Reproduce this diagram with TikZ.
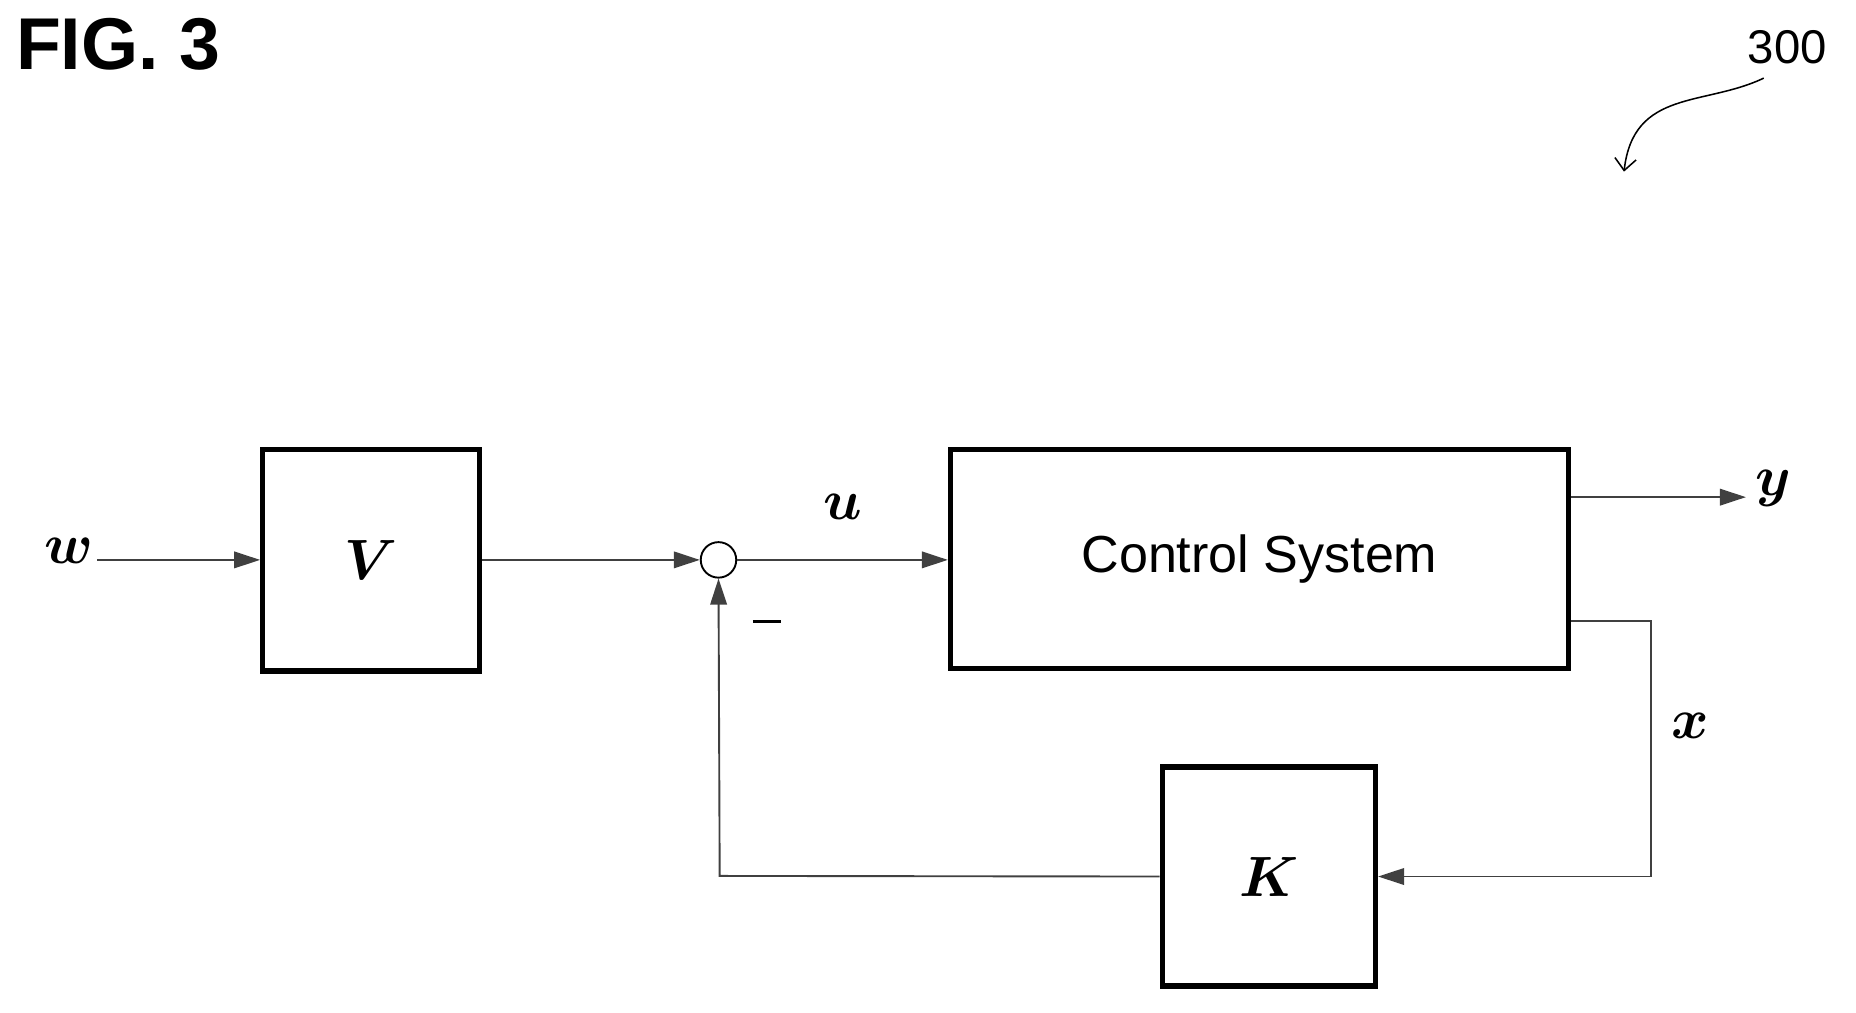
\documentclass[tikz,border=0pt]{standalone}
\usepackage{fix-cm}
\usepackage{fontspec}
\setsansfont{Liberation Sans}
\usetikzlibrary{arrows.meta}
\begin{document}
\begin{tikzpicture}[x=1pt,y=-1pt,
 blk/.style={draw,line width=4.5pt,minimum width=#1,inner sep=0},
 con/.style={draw=black!75,line width=1.6pt},
 arr/.style={con,-{Triangle[length=22pt,width=14pt]}},
 lab/.style={font=\fontsize{48}{50}\selectfont\boldmath}]
\useasboundingbox (0,0) rectangle (1568,855);
\node[anchor=north west,font=\sffamily\bfseries\fontsize{62}{64}\selectfont] (fig) at (10,12) {FIG. 3};
\node[font=\sffamily\fontsize{40}{42}\selectfont] (n300) at (1510,40) {300};
\coordinate (c1) at (1490,66);
\coordinate (c2) at (1372,145);
\draw[line width=1.3pt,-{Straight Barb[length=10pt,width=18pt]}] (c1) .. controls (1440,90) and (1380,75) .. (c2);
\node[blk,minimum width=183pt,minimum height=187pt] (V) at (313.5,473.5) {};
\node[lab] at (V) {$V$};
\node[blk,minimum width=522pt,minimum height=185pt] (CS) at (1064,472.5) {};
\node[font=\sffamily\fontsize{44}{46}\selectfont] at (CS) {Control System};
\node[blk,minimum width=180pt,minimum height=185pt] (K) at (1072,740.5) {};
\node[lab] at (K) {$K$};
\node[draw,line width=1.6pt,circle,minimum size=30pt,inner sep=0] (S) at (607,473) {};
\node[lab,anchor=east] (w) at (82,465) {$w$};
\node[lab] (u) at (712,428) {$u$};
\node[lab] (y) at (1498,413) {$y$};
\node[lab] (x) at (1428,613) {$x$};
\draw[line width=2.5pt] (636,525) -- (660,525);
\draw[arr] (w.east |- 0,473) -- (V.west |- 0,473);
\draw[arr] (V.east |- 0,473) -- (S.west);
\draw[arr] (S.east) -- (CS.west |- S.east);
\coordinate (yo) at (1475,420);
\draw[arr] (CS.east |- yo) -- (yo);
\coordinate (xr) at (1395,525);
\draw[arr] (CS.east |- xr) -- (xr) -- (xr |- K.east) -- (K.east);
\coordinate (fb) at (608,740);
\draw[arr] (K.west) -- (fb) -- (S.south);
\end{tikzpicture}
\end{document}
